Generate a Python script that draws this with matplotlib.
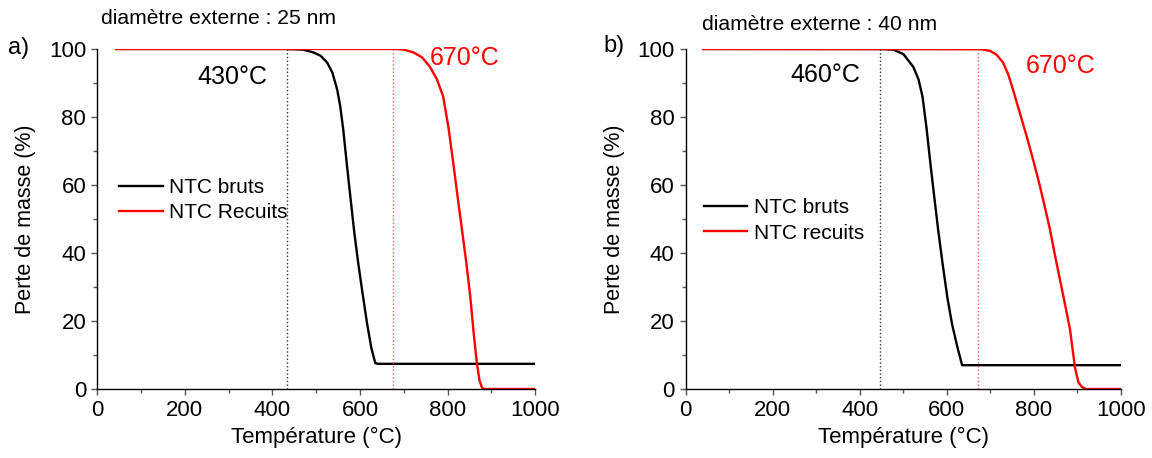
import matplotlib
matplotlib.use("Agg")
import matplotlib.pyplot as plt
from matplotlib.ticker import MultipleLocator

plt.rcParams['font.family'] = ['Liberation Sans', 'DejaVu Sans']

# %% data (temperature in °C, mass in %)
# panel a) diamètre externe : 25 nm
a_bruts_T = [43, 430, 470, 493, 510, 525, 537, 548, 555, 562, 570, 578, 587,
             596, 606, 616, 626, 635, 640, 1000]
a_bruts_m = [100, 100, 99.8, 99, 98, 96, 93, 88, 83, 76, 66, 56.5, 46,
             37, 28, 19.4, 12, 7.6, 7.4, 7.4]
a_recuits_T = [43, 680, 700, 722, 742, 760, 776, 790, 802, 813, 823, 833,
               843, 852, 860, 867, 873, 879, 885, 1000]
a_recuits_m = [100, 100, 99.8, 99, 97.5, 94.7, 91, 86, 77, 66.5, 56.5, 46.8,
               37, 27, 16, 7.6, 2.5, 0.3, 0, 0]

# panel b) diamètre externe : 40 nm
b_bruts_T = [40, 450, 477, 500, 523, 535, 544, 553, 562, 571, 580, 590,
             601, 612, 624, 635, 1000]
b_bruts_m = [100, 100, 99.8, 98.5, 94.7, 91, 86, 77, 66.5, 56.5, 46.8, 37,
             27, 19, 12.4, 7, 7]
b_recuits_T = [40, 680, 700, 715, 729, 741, 752, 768, 784, 800, 814, 826,
               837, 848, 860, 872, 883, 894, 902, 910, 920, 1000]
b_recuits_m = [100, 99.9, 99.4, 98.2, 96, 92.5, 88, 81, 74, 66.5, 59.5, 53,
               46.8, 39.5, 32, 24.5, 17.4, 6.5, 2, 0.6, 0, 0]

onset_a = [433, 676]
onset_b = [446, 671]
labels_a = ["NTC bruts", "NTC Recuits"]
labels_b = ["NTC bruts", "NTC recuits"]

# %% figure
fig = plt.figure(figsize=(11.52, 4.58), dpi=100)
ax_a = fig.add_axes([0.0845, 0.1507, 0.3800, 0.7424])
ax_b = fig.add_axes([0.5952, 0.1507, 0.3779, 0.7424])


def style_axis(ax):
    ax.set_xlim(0, 1000)
    ax.set_ylim(0, 100)
    ax.spines['top'].set_visible(False)
    ax.spines['right'].set_visible(False)
    ax.xaxis.set_major_locator(MultipleLocator(200))
    ax.xaxis.set_minor_locator(MultipleLocator(100))
    ax.yaxis.set_major_locator(MultipleLocator(20))
    ax.yaxis.set_minor_locator(MultipleLocator(10))
    ax.tick_params(which='major', direction='out', length=4.5, width=1,
                   labelsize=16, color='#555555')
    ax.tick_params(which='minor', direction='out', length=3, width=1,
                   color='#555555')
    ax.set_xlabel("Température (°C)", fontsize=16, labelpad=4)
    ax.set_ylabel("Perte de masse (%)", fontsize=15.5, labelpad=9)
    for s in ax.spines.values():
        s.set_linewidth(1)


for ax, bT, bm, rT, rm, onset, labels in [
        (ax_a, a_bruts_T, a_bruts_m, a_recuits_T, a_recuits_m, onset_a, labels_a),
        (ax_b, b_bruts_T, b_bruts_m, b_recuits_T, b_recuits_m, onset_b, labels_b)]:
    style_axis(ax)
    ax.plot(bT, bm, color='black', linewidth=1.7, label=labels[0])
    ax.plot(rT, rm, color='red', linewidth=1.7, label=labels[1])
    ax.vlines(onset[0], 0, 100, colors='#333333', linestyles=':', linewidth=1)
    ax.vlines(onset[1], 0, 100, colors='#ff5555', linestyles=':', linewidth=1)

ax_a.legend(loc='upper left', bbox_to_anchor=(0.03, 0.645), frameon=False,
            fontsize=15, handlelength=2.1, handletextpad=0.3, labelspacing=0.3,
            borderaxespad=0)
ax_b.legend(loc='upper left', bbox_to_anchor=(0.022, 0.585), frameon=False,
            fontsize=15, handlelength=2.1, handletextpad=0.3, labelspacing=0.3,
            borderaxespad=0)

ax_a.text(308, 91.8, "430°C", fontsize=18, ha='center', va='center')
ax_a.text(840, 97.4, "670°C", fontsize=18, ha='center', va='center', color='red')
ax_b.text(320, 92.4, "460°C", fontsize=18, ha='center', va='center')
ax_b.text(862, 95, "670°C", fontsize=18, ha='center', va='center', color='red')

fig.text(101 / 1152, 1 - 19 / 458, "diamètre externe : 25 nm", fontsize=15.2,
         ha='left', va='center')
fig.text(702 / 1152, 1 - 24 / 458, "diamètre externe : 40 nm", fontsize=15.2,
         ha='left', va='center')
fig.text(8 / 1152, 1 - 48 / 458, "a)", fontsize=17, ha='left', va='center')
fig.text(603 / 1152, 1 - 46 / 458, "b)", fontsize=17, ha='left', va='center')

fig.savefig("out.png", dpi=100)
